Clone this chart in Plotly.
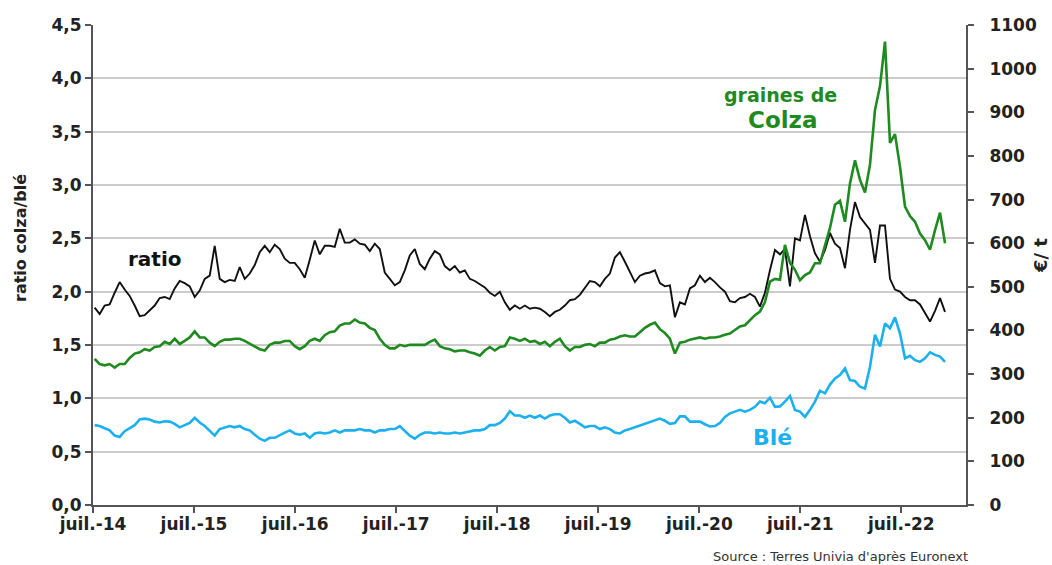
import pandas as pd
import plotly.graph_objects as go

start_date = "2014-07-07"
step = "434h"

ratio = [1.85, 1.79, 1.87, 1.88, 1.99, 2.09, 2.02, 1.96, 1.87, 1.77,
         1.78, 1.83, 1.87, 1.94, 1.95, 1.93, 2.03, 2.10, 2.08, 2.05,
         1.95, 2.01, 2.12, 2.15, 2.43, 2.12, 2.09, 2.11, 2.10, 2.23,
         2.12, 2.17, 2.25, 2.37, 2.43, 2.37, 2.44, 2.40, 2.31, 2.27,
         2.27, 2.21,
         2.13, 2.30, 2.48, 2.35, 2.43, 2.43, 2.42, 2.59, 2.46, 2.46,
         2.49, 2.45, 2.44, 2.38, 2.45, 2.40, 2.18, 2.12, 2.06, 2.09,
         2.20, 2.34, 2.40, 2.26, 2.21, 2.31, 2.38, 2.35, 2.24, 2.20,
         2.24, 2.18, 2.20, 2.12, 2.10, 2.07, 2.04, 1.99, 1.96, 2.00,
         1.90, 1.83,
         1.87, 1.84, 1.87, 1.84, 1.85, 1.84, 1.81, 1.77, 1.81, 1.83,
         1.87, 1.92, 1.93, 1.97, 2.04, 2.10, 2.09, 2.05, 2.12, 2.17,
         2.32, 2.37, 2.28, 2.18, 2.09, 2.15, 2.17, 2.18, 2.20, 2.08,
         2.05, 2.06, 1.76, 1.90, 1.88, 2.03, 2.06, 2.15, 2.09, 2.13,
         2.09, 2.04,
         2.00, 1.91, 1.90, 1.94, 1.95, 1.98, 1.95, 1.86, 1.99, 2.20,
         2.39, 2.35, 2.40, 2.05, 2.50, 2.48, 2.72, 2.52, 2.36, 2.28,
         2.39, 2.55, 2.45, 2.41, 2.22, 2.58, 2.84, 2.70, 2.64, 2.58,
         2.27, 2.62, 2.62, 2.12, 2.02, 2.00, 1.95, 1.92, 1.92, 1.88,
         1.80, 1.72, 1.82, 1.94, 1.81]

colza = [335, 323, 320, 323, 315, 323, 323, 337, 347, 350,
         357, 354, 362, 364, 374, 369, 381, 369, 376, 384,
         398, 384, 384, 372, 364, 374, 379, 379, 381, 381,
         376, 369, 362, 357, 354, 367, 372, 372, 376, 376,
         364, 357,
         364, 376, 381, 376, 389, 396, 398, 411, 416, 416,
         425, 418, 416, 406, 401, 381, 367, 359, 359, 367,
         364, 367, 367, 367, 367, 374, 379, 364, 359, 357,
         352, 354, 354, 350, 347, 342, 354, 362, 354, 362,
         364, 384,
         381, 376, 381, 374, 376, 369, 374, 364, 374, 381,
         364, 354, 362, 362, 367, 369, 364, 372, 372, 379,
         381, 386, 389, 386, 386, 396, 406, 413, 418, 403,
         394, 381, 347, 372, 374, 379, 381, 384, 381, 384,
         384, 386,
         390, 393, 401, 409, 412, 424, 435, 443, 465, 512,
         518, 516, 596, 555, 539, 515, 527, 533, 554, 554,
         592, 635, 688, 697, 649, 737, 790, 745, 716, 780,
         905, 960, 1062, 830, 850, 775, 684, 662, 649, 622,
         607, 585, 630, 670, 600]

ble = [183, 181, 176, 171, 159, 156, 169, 176, 183, 196,
       198, 196, 191, 189, 192, 191, 186, 178, 183, 188,
       200, 189, 181, 171, 159, 174, 178, 181, 178, 181,
       174, 171, 161, 152, 147, 154, 154, 161, 166, 171,
       164, 161,
       164, 154, 164, 166, 164, 166, 171, 166, 171, 171,
       171, 174, 171, 171, 166, 171, 171, 174, 174, 181,
       171, 159, 152, 161, 166, 166, 164, 166, 164, 164,
       166, 164, 166, 169, 171, 171, 174, 183, 183, 188,
       198, 215,
       205, 205, 200, 205, 200, 205, 198, 205, 208, 208,
       200, 189, 193, 186, 178, 181, 181, 174, 178, 174,
       166, 164, 171, 174, 178, 181, 186, 189, 193, 198,
       193, 186, 188, 203, 203, 191, 191, 191, 185, 180,
       181, 188,
       202, 210, 214, 218, 214, 218, 225, 237, 233, 246,
       225, 226, 237, 250, 218, 214, 202, 218, 237, 262,
       256, 276, 290, 298, 313, 286, 284, 271, 267, 317,
       390, 363, 416, 405, 430, 393, 336, 342, 332, 328,
       336, 350, 344, 340, 328]

x_tick_dates = ["2014-07-01", "2015-07-01", "2016-07-01", "2017-07-01", "2018-07-01",
                "2019-07-01", "2020-07-01", "2021-07-01", "2022-07-01"]
x_tick_labels = ["juil.-14", "juil.-15", "juil.-16", "juil.-17", "juil.-18",
                 "juil.-19", "juil.-20", "juil.-21", "juil.-22"]
left_ticks = [0, 0.5, 1.0, 1.5, 2.0, 2.5, 3.0, 3.5, 4.0, 4.5]
left_labels = ["0,0", "0,5", "1,0", "1,5", "2,0", "2,5", "3,0", "3,5", "4,0", "4,5"]
right_ticks = [0, 100, 200, 300, 400, 500, 600, 700, 800, 900, 1000, 1100]
right_labels = ["0", "100", "200", "300", "400", "500", "600", "700", "800", "900", "1000", "1100"]

dates = pd.date_range(start_date, periods=len(ratio), freq=step)

FONT = "DejaVu Sans"
GREEN = "#1f8a1f"
BLUE = "#1cb0ee"
AXIS = "#555555"
TICKFONT = dict(family=FONT, size=17, color="#222222", weight="bold")

fig = go.Figure()
fig.add_trace(go.Scatter(x=dates, y=ratio, mode="lines", name="ratio",
                         line=dict(color="#111111", width=1.9)))
fig.add_trace(go.Scatter(x=dates, y=colza, mode="lines", name="graines de Colza", yaxis="y2",
                         line=dict(color=GREEN, width=2.6)))
fig.add_trace(go.Scatter(x=dates, y=ble, mode="lines", name="Blé", yaxis="y2",
                         line=dict(color=BLUE, width=2.6)))

fig.update_layout(
    width=1052, height=565,
    margin=dict(l=93, r=86, t=25, b=60),
    paper_bgcolor="white", plot_bgcolor="white",
    showlegend=False,
    xaxis=dict(type="date", range=["2014-07-01", "2023-02-20"],
               tickvals=x_tick_dates, ticktext=x_tick_labels,
               showgrid=False, zeroline=False,
               showline=True, linecolor=AXIS, linewidth=2,
               ticks="outside", ticklen=6, tickwidth=2, tickcolor=AXIS,
               ticklabelstandoff=-3,
               tickfont=TICKFONT),
    yaxis=dict(range=[0, 4.5], tickvals=left_ticks, ticktext=left_labels,
               showgrid=True, gridcolor="#cccccc", gridwidth=1.5, zeroline=False,
               showline=True, linecolor=AXIS, linewidth=2,
               ticks="outside", ticklen=6, tickwidth=2, tickcolor=AXIS,
               tickfont=TICKFONT),
    yaxis2=dict(range=[0, 1100], overlaying="y", side="right",
                tickvals=right_ticks, ticktext=right_labels,
                showgrid=False, zeroline=False,
                showline=True, linecolor=AXIS, linewidth=2,
                ticks="outside", ticklen=6, tickwidth=2, tickcolor=AXIS,
                ticklabelstandoff=12,
                tickfont=TICKFONT),
)

def px(xp, yp):
    return (xp - 93) / 873, (505 - yp) / 480

annots = [
    ("ratio", 155, 259, 20, "#111111", "bold", 0),
    ("graines de", 780, 95, 19, GREEN, "bold", 0),
    ("Colza", 782, 120, 23, GREEN, "bold", 0),
    ("Blé", 772, 437, 22, BLUE, "bold", 0),
    ("ratio colza/blé", 20, 238, 16, "#222222", "bold", -90),
    ("€/ t", 1041, 256, 18, "#222222", "bold", -90),
]
for text, xp, yp, size, color, weight, angle in annots:
    ax, ay = px(xp, yp)
    fig.add_annotation(text=text, x=ax, y=ay, xref="paper", yref="paper",
                       xanchor="center", yanchor="middle", showarrow=False,
                       textangle=angle,
                       font=dict(family=FONT, size=size, color=color, weight=weight))

sx, sy = px(970, 556)
fig.add_annotation(text="Source : Terres Univia d'après Euronext", x=sx, y=sy,
                   xref="paper", yref="paper", xanchor="right", yanchor="middle",
                   showarrow=False, font=dict(family=FONT, size=13, color="#333333"))

fig.write_html("out.html",
               config={"displayModeBar": False},
               post_script="document.body.style.margin='0px';document.body.style.overflow='hidden';")
